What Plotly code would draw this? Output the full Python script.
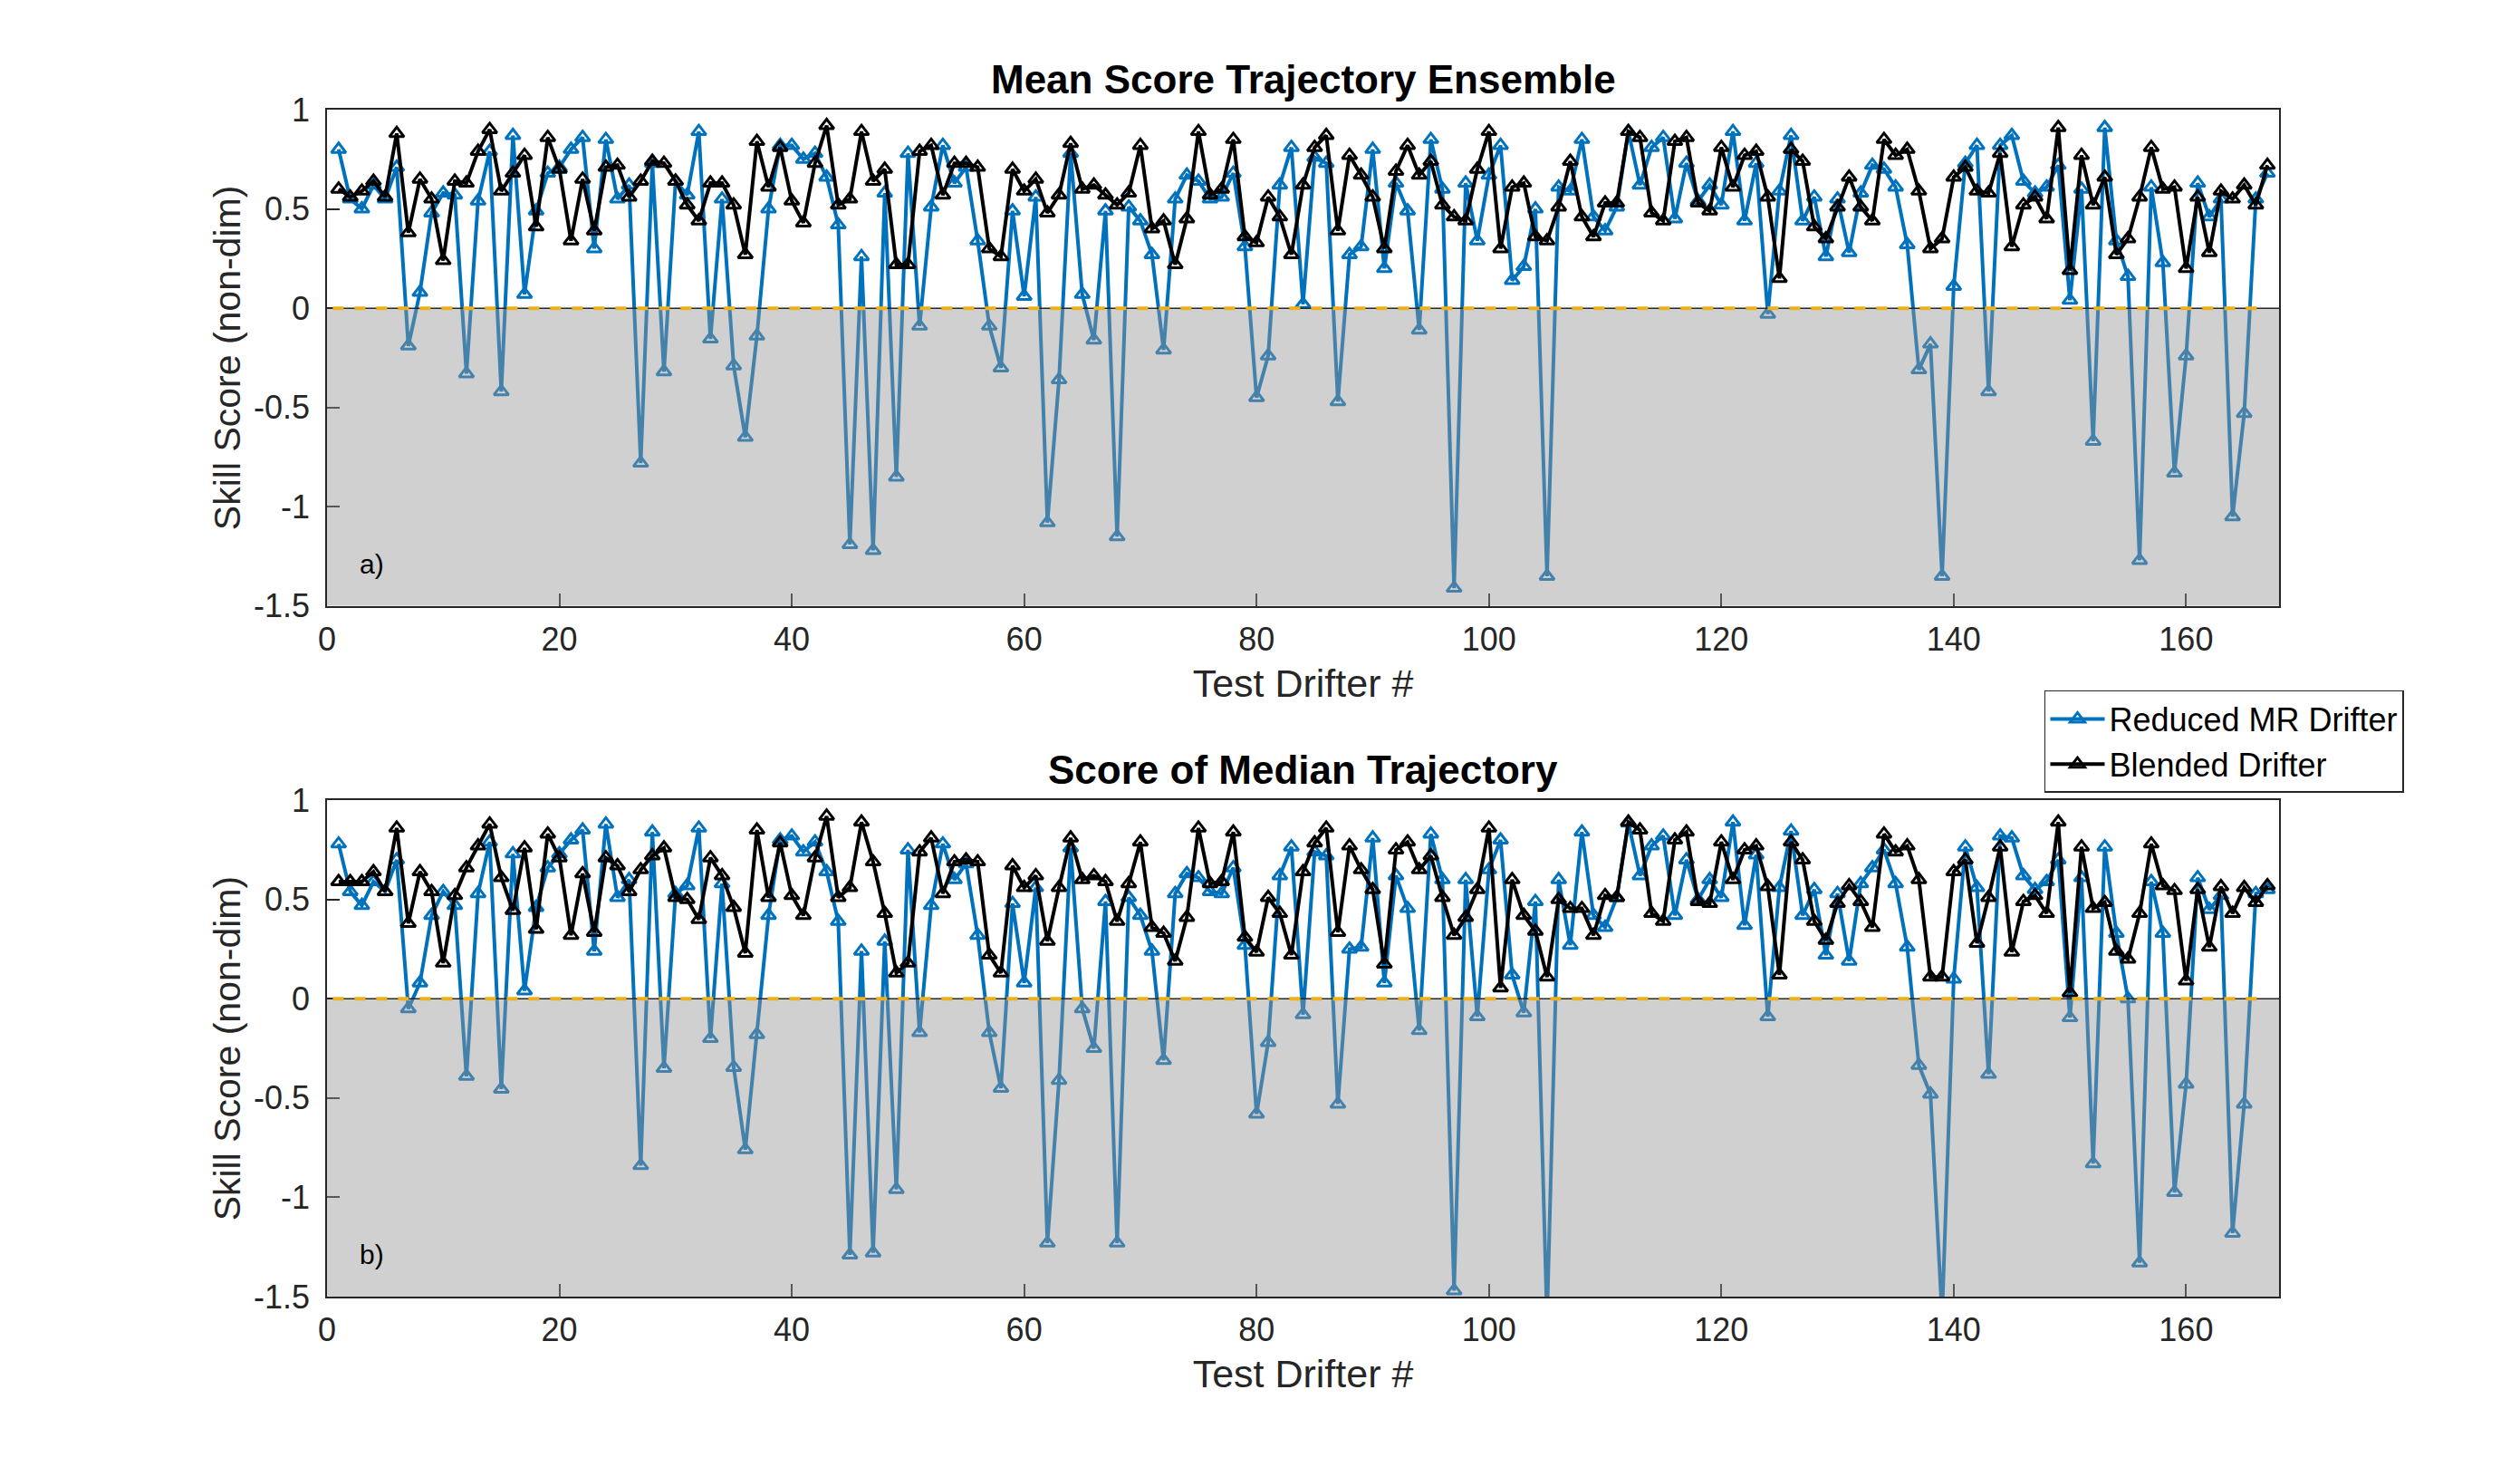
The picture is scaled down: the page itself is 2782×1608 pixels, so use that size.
"""
Skill score per test drifter: mean-ensemble score (a) and median-trajectory score (b).
"""

import plotly.graph_objects as go
from plotly.subplots import make_subplots

# --- data ---
drifter = list(range(1, 168))

mean_reduced = [
    0.80, 0.55, 0.50, 0.62, 0.55, 0.71, -0.19, 0.08, 0.48, 0.58,
    0.57, -0.33, 0.54, 0.79, -0.42, 0.87, 0.07, 0.49, 0.68, 0.71,
    0.80, 0.86, 0.30, 0.85, 0.55, 0.62, -0.78, 0.73, -0.32, 0.64,
    0.57, 0.89, -0.155, 0.55, -0.29, -0.65, -0.14, 0.50, 0.82, 0.82,
    0.75, 0.78, 0.66, 0.42, -1.19, 0.26, -1.22, 0.58, -0.85, 0.78,
    -0.09, 0.51, 0.82, 0.63, 0.71, 0.34, -0.09, -0.30, 0.49, 0.06,
    0.56, -1.08, -0.36, 0.78, 0.07, -0.16, 0.49, -1.15, 0.51, 0.44,
    0.27, -0.21, 0.55, 0.67, 0.64, 0.55, 0.56, 0.68, 0.31, -0.45,
    -0.24, 0.62, 0.81, 0.02, 0.76, 0.73, -0.47, 0.27, 0.31, 0.80,
    0.20, 0.63, 0.49, -0.11, 0.85, 0.60, -1.41, 0.63, 0.34, 0.67,
    0.82, 0.14, 0.21, 0.50, -1.35, 0.61, 0.59, 0.85, 0.46, 0.39,
    0.51, 0.89, 0.62, 0.81, 0.86, 0.45, 0.73, 0.54, 0.62, 0.52,
    0.89, 0.44, 0.73, -0.03, 0.59, 0.87, 0.44, 0.56, 0.26, 0.55,
    0.28, 0.58, 0.72, 0.70, 0.61, 0.32, -0.31, -0.18, -1.35, 0.11,
    0.73, 0.82, -0.42, 0.82, 0.87, 0.64, 0.58, 0.61, 0.72, 0.04,
    0.60, -0.67, 0.91, 0.34, 0.16, -1.27, 0.61, 0.23, -0.83, -0.24,
    0.63, 0.46, 0.55, -1.05, -0.53, 0.55, 0.68,
]
mean_blended = [
    0.60, 0.56, 0.59, 0.64, 0.56, 0.88, 0.38, 0.65, 0.55, 0.24,
    0.64, 0.63, 0.79, 0.90, 0.59, 0.68, 0.77, 0.41, 0.86, 0.70,
    0.34, 0.65, 0.39, 0.71, 0.72, 0.56, 0.64, 0.74, 0.73, 0.64,
    0.52, 0.44, 0.63, 0.63, 0.52, 0.27, 0.84, 0.61, 0.81, 0.54,
    0.43, 0.73, 0.92, 0.52, 0.55, 0.89, 0.64, 0.70, 0.22, 0.22,
    0.79, 0.82, 0.57, 0.73, 0.73, 0.71, 0.30, 0.26, 0.70, 0.59,
    0.65, 0.48, 0.57, 0.83, 0.60, 0.62, 0.57, 0.52, 0.58, 0.82,
    0.40, 0.44, 0.22, 0.45, 0.89, 0.57, 0.60, 0.85, 0.36, 0.33,
    0.56, 0.46, 0.27, 0.62, 0.81, 0.87, 0.39, 0.77, 0.67, 0.56,
    0.30, 0.69, 0.82, 0.67, 0.74, 0.52, 0.46, 0.44, 0.70, 0.89,
    0.30, 0.61, 0.63, 0.36, 0.34, 0.51, 0.74, 0.46, 0.36, 0.53,
    0.53, 0.89, 0.86, 0.48, 0.44, 0.84, 0.86, 0.53, 0.49, 0.81,
    0.61, 0.77, 0.79, 0.56, 0.15, 0.80, 0.74, 0.41, 0.35, 0.51,
    0.66, 0.51, 0.44, 0.85, 0.77, 0.80, 0.59, 0.30, 0.35, 0.66,
    0.71, 0.59, 0.58, 0.78, 0.31, 0.52, 0.56, 0.45, 0.91, 0.19,
    0.77, 0.52, 0.66, 0.27, 0.35, 0.56, 0.81, 0.60, 0.61, 0.20,
    0.56, 0.28, 0.59, 0.55, 0.62, 0.52, 0.72,
]
median_reduced = [
    0.78, 0.54, 0.47, 0.59, 0.54, 0.70, -0.05, 0.08, 0.42, 0.54,
    0.47, -0.39, 0.53, 0.79, -0.455, 0.73, 0.04, 0.46, 0.66, 0.73,
    0.80, 0.85, 0.24, 0.88, 0.51, 0.60, -0.84, 0.84, -0.35, 0.53,
    0.57, 0.86, -0.20, 0.58, -0.345, -0.76, -0.18, 0.42, 0.80, 0.82,
    0.74, 0.79, 0.64, 0.39, -1.29, 0.24, -1.28, 0.29, -0.96, 0.75,
    -0.17, 0.47, 0.78, 0.60, 0.68, 0.32, -0.17, -0.45, 0.48, 0.08,
    0.56, -1.23, -0.41, 0.76, -0.05, -0.25, 0.49, -1.23, 0.51, 0.42,
    0.24, -0.31, 0.53, 0.63, 0.61, 0.54, 0.53, 0.66, 0.27, -0.58,
    -0.22, 0.62, 0.765, -0.08, 0.74, 0.72, -0.53, 0.25, 0.26, 0.81,
    0.08, 0.62, 0.455, -0.16, 0.83, 0.60, -1.47, 0.60, -0.09, 0.65,
    0.80, 0.12, -0.07, 0.49, -1.62, 0.60, 0.27, 0.84, 0.42, 0.36,
    0.51, 0.885, 0.62, 0.77, 0.82, 0.42, 0.70, 0.50, 0.60, 0.51,
    0.89, 0.37, 0.725, -0.09, 0.56, 0.845, 0.42, 0.55, 0.22, 0.53,
    0.19, 0.58, 0.66, 0.75, 0.58, 0.26, -0.335, -0.48, -1.60, 0.10,
    0.765, 0.56, -0.38, 0.82, 0.81, 0.62, 0.55, 0.59, 0.70, -0.095,
    0.61, -0.83, 0.765, 0.33, 0.00, -1.33, 0.59, 0.33, -0.975, -0.43,
    0.61, 0.45, 0.52, -1.18, -0.53, 0.53, 0.55,
]
median_blended = [
    0.59, 0.59, 0.59, 0.64, 0.54, 0.86, 0.38, 0.64, 0.54, 0.18,
    0.52, 0.66, 0.77, 0.88, 0.61, 0.445, 0.76, 0.35, 0.83, 0.71,
    0.32, 0.63, 0.335, 0.71, 0.67, 0.54, 0.65, 0.72, 0.76, 0.51,
    0.50, 0.40, 0.71, 0.62, 0.46, 0.23, 0.85, 0.51, 0.785, 0.52,
    0.42, 0.71, 0.92, 0.51, 0.56, 0.89, 0.69, 0.43, 0.13, 0.18,
    0.74, 0.81, 0.53, 0.69, 0.70, 0.69, 0.22, 0.13, 0.67, 0.56,
    0.62, 0.29, 0.56, 0.81, 0.60, 0.62, 0.59, 0.39, 0.58, 0.79,
    0.36, 0.33, 0.19, 0.41, 0.86, 0.58, 0.59, 0.84, 0.31, 0.235,
    0.51, 0.43, 0.22, 0.64, 0.785, 0.86, 0.335, 0.77, 0.65, 0.55,
    0.175, 0.75, 0.79, 0.65, 0.72, 0.51, 0.32, 0.41, 0.55, 0.86,
    0.055, 0.60, 0.42, 0.34, 0.11, 0.50, 0.455, 0.455, 0.32, 0.52,
    0.51, 0.89, 0.85, 0.43, 0.39, 0.80, 0.84, 0.49, 0.48, 0.79,
    0.60, 0.75, 0.77, 0.565, 0.12, 0.79, 0.70, 0.39, 0.295, 0.48,
    0.57, 0.49, 0.36, 0.83, 0.74, 0.77, 0.60, 0.11, 0.11, 0.64,
    0.70, 0.28, 0.51, 0.765, 0.235, 0.49, 0.52, 0.43, 0.89, 0.03,
    0.765, 0.455, 0.485, 0.24, 0.20, 0.43, 0.78, 0.57, 0.545, 0.09,
    0.55, 0.26, 0.565, 0.43, 0.56, 0.485, 0.57,
]

y_ticks = [-1.5, -1, -0.5, 0, 0.5, 1]
y_tick_text = ["-1.5", "-1", "-0.5", "0", "0.5", "1"]
x_ticks = [0, 20, 40, 60, 80, 100, 120, 140, 160]

panels = [
    ("Mean Score Trajectory Ensemble", "a)", mean_reduced, mean_blended),
    ("Score of Median Trajectory", "b)", median_reduced, median_blended),
]

# --- style ---
BLUE = "#0072BD"
BLACK = "#000000"
GOLD = "#EDB120"
AXIS = "#262626"
FONT = "Liberation Sans, Arial, Helvetica, sans-serif"

fig = make_subplots(rows=2, cols=1, vertical_spacing=0.1636)

for row, (title, tag, reduced, blended) in enumerate(panels, 1):
    for name, vals, color in [("Reduced MR Drifter", reduced, BLUE), ("Blended Drifter", blended, BLACK)]:
        fig.add_trace(go.Scatter(
            x=drifter, y=vals, mode="lines+markers", name=name,
            line=dict(color=color, width=4),
            marker=dict(symbol="triangle-up-open", size=14, color=color, line=dict(width=3, color=color)),
            showlegend=(row == 1), legendgroup=name, cliponaxis=True,
        ), row=row, col=1)

    xref = "x" if row == 1 else "x2"
    yref = "y" if row == 1 else "y2"
    # grey "no skill" region, drawn semi-transparent over the data like a patch
    fig.add_shape(type="rect", xref=xref, yref=yref, x0=0, x1=168, y0=-1.5, y1=0,
                  fillcolor="rgba(150,150,150,0.45)", line=dict(width=0), layer="above")
    fig.add_shape(type="line", xref=xref, yref=yref, x0=0, x1=168, y0=0, y1=0,
                  line=dict(color=AXIS, width=1.5), layer="above")
    fig.add_shape(type="line", xref=xref, yref=yref, x0=0.5, x1=167, y0=0, y1=0,
                  line=dict(color=GOLD, width=4, dash="dash"), layer="above")

    fig.add_annotation(text=f"<b>{title}</b>", xref=f"{xref} domain", yref=f"{yref} domain",
                       x=0.5, y=1, yanchor="middle", yshift=34, showarrow=False,
                       font=dict(size=44, color=BLACK, family=FONT))
    fig.add_annotation(text=tag, xref=f"{xref} domain", yref=f"{yref} domain",
                       x=0.016, y=0.0855, xanchor="left", yanchor="middle", showarrow=False,
                       font=dict(size=30, color=BLACK, family=FONT))

    fig.update_xaxes(range=[0, 168], tickvals=x_ticks, ticks="inside", ticklen=14,
                     tickcolor=AXIS, tickwidth=1.5, showline=True, mirror=True,
                     linecolor=AXIS, linewidth=1.5, showgrid=False, zeroline=False,
                     tickfont=dict(size=36, color=AXIS, family=FONT), ticklabelstandoff=4,
                     title=dict(text="Test Drifter #", standoff=14,
                                font=dict(size=43, color=AXIS, family=FONT)),
                     row=row, col=1)
    fig.update_yaxes(range=[-1.5, 1], tickvals=y_ticks, ticktext=y_tick_text, ticks="inside",
                     ticklen=14, tickcolor=AXIS, tickwidth=1.5, showline=True, mirror=True,
                     linecolor=AXIS, linewidth=1.5, showgrid=False, zeroline=False,
                     tickfont=dict(size=36, color=AXIS, family=FONT), ticklabelstandoff=10,
                     title=dict(text="Skill Score (non-dim)", standoff=2,
                                font=dict(size=41, color=AXIS, family=FONT)),
                     row=row, col=1)

fig.update_layout(
    width=2774, height=1600,
    margin=dict(l=353, r=266, t=113, b=177),
    paper_bgcolor="white", plot_bgcolor="white",
    font=dict(family=FONT, color=AXIS),
    legend=dict(x=0.8798, y=0.5107, xanchor="left", yanchor="top",
                bordercolor=AXIS, borderwidth=1.5, bgcolor="white",
                font=dict(size=36, color=BLACK, family=FONT),
                itemwidth=60, tracegroupgap=0),
)

fig.write_html("out.html")
